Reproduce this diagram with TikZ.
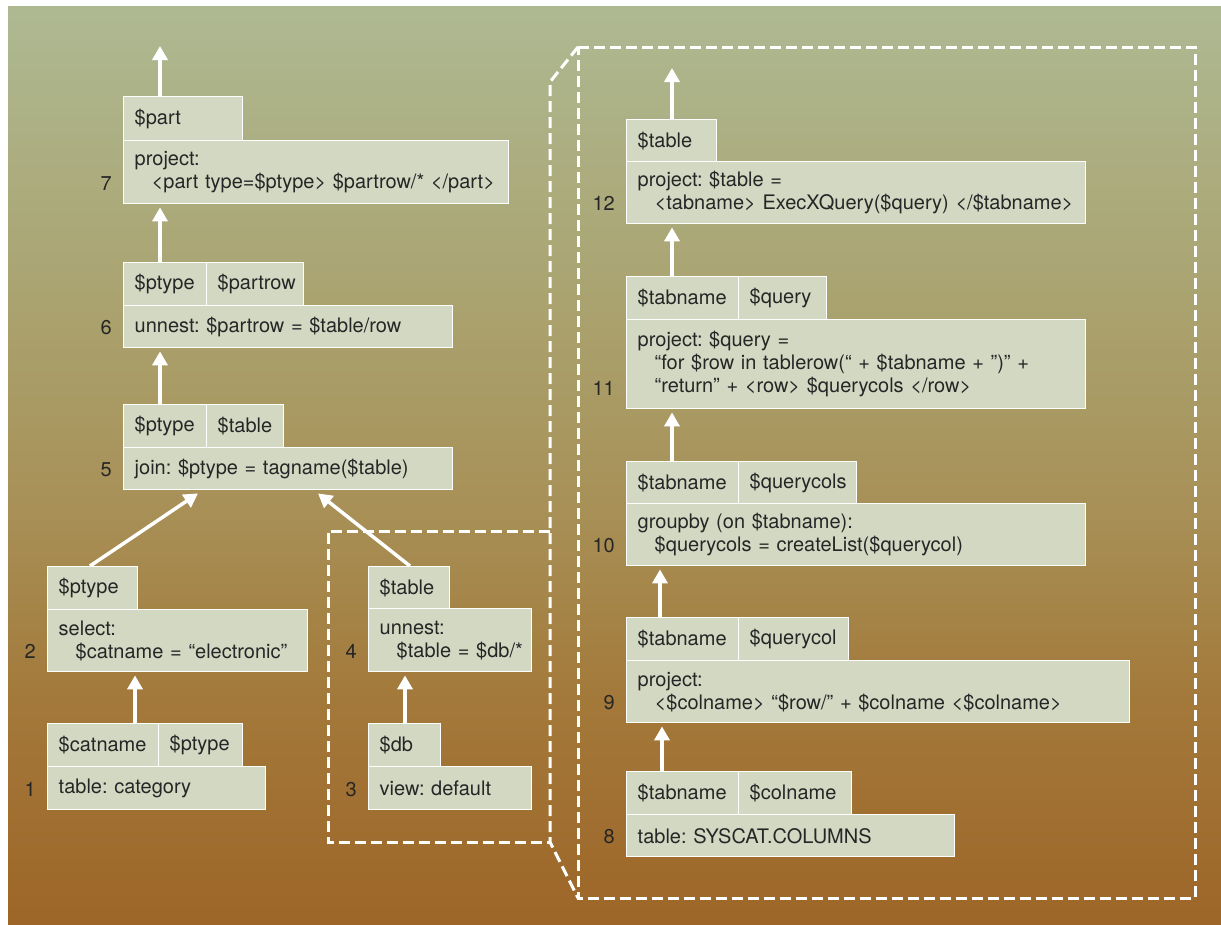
\documentclass[tikz,border=0pt]{standalone}
\usepackage{fontspec}
\setmainfont{TeX Gyre Heros}
\usetikzlibrary{arrows.meta,calc}
\definecolor{boxfill}{RGB}{211,216,195}
\definecolor{txt}{RGB}{38,38,38}
\definecolor{bgA}{RGB}{174,185,146}
\definecolor{bgB}{RGB}{170,163,112}
\definecolor{bgC}{RGB}{168,145,88}
\definecolor{bgD}{RGB}{163,121,58}
\definecolor{bgE}{RGB}{157,102,40}
\pgfdeclareverticalshading{bgshade}{100bp}{color(0bp)=(bgE); color(25bp)=(bgE); color(37.2bp)=(bgD); color(48.1bp)=(bgC); color(59bp)=(bgB); color(75bp)=(bgA); color(100bp)=(bgA)}
\newcommand\fs{\fontsize{20}{23}\selectfont\frenchspacing}
\newcommand\ind[1]{\mbox{\hspace*{17pt}#1}}
\tikzset{
 cellbox/.style={draw=white, line width=1.4pt, fill=boxfill, anchor=north west, inner xsep=11pt, inner ysep=0pt, text=txt, font=\fs, align=left, minimum height=43pt},
 numlbl/.style={anchor=base east, text=txt, font=\fs, inner sep=0pt},
 flow/.style={draw=white, line width=3.5pt, -{Triangle[width=15pt,length=14pt]}},
 dashline/.style={draw=white, line width=3pt, dash pattern=on 11pt off 5pt},
}
\begin{document}
\begin{tikzpicture}[x=1pt,y=-1pt]
\useasboundingbox (0,0) rectangle (1221,924);
\fill[white] (0,0) rectangle (1221,924);
\shade[shading=bgshade] (8,6) rectangle (1221,924);

% dashed groupings
\draw[dashline] (550,531) -- (328,531) -- (328,842) -- (550,842);
\draw[dashline] (578,47) -- (1195,47) -- (1195,898) -- (578,898) -- cycle;
\draw[dashline] (578,47) -- (550,82) -- (550,842) -- (578,898);

% ---------- left column ----------
% 7
\node[cellbox, text width=97pt, minimum height=44pt] (h7a) at (123,96) {\$part};
\node[cellbox, text width=363pt, minimum height=63pt] (b7) at (123,140) {project:\\\ind{<part type=\$ptype> \$partrow/* </part>}};
\node[numlbl] (l7) at ($(b7.south west)+(-11,-14)$) {7};
% 6
\node[cellbox, text width=61pt] (h6a) at (123,262) {\$ptype};
\node[cellbox, text width=75pt] (h6b) at (206,262) {\$partrow};
\node[cellbox, text width=307pt, minimum height=42pt] (b6) at (123,305) {unnest: \$partrow = \$table/row};
\node[numlbl] (l6) at ($(b6.south west)+(-11,-14)$) {6};
% 5
\node[cellbox, text width=61pt] (h5a) at (123,404) {\$ptype};
\node[cellbox, text width=55pt] (h5b) at (206,404) {\$table};
\node[cellbox, text width=307pt, minimum height=42pt] (b5) at (123,447) {join: \$ptype = tagname(\$table)};
\node[numlbl] (l5) at ($(b5.south west)+(-11,-14)$) {5};
% 2
\node[cellbox, text width=68pt] (h2a) at (47,566) {\$ptype};
\node[cellbox, text width=238pt, minimum height=62pt] (b2) at (47,609) {select:\\\ind{\$catname = “electronic”}};
\node[numlbl] (l2) at ($(b2.south west)+(-11,-14)$) {2};
% 1
\node[cellbox, text width=89pt] (h1a) at (47,723) {\$catname};
\node[cellbox, text width=62pt] (h1b) at (158,723) {\$ptype};
\node[cellbox, text width=196pt] (b1) at (47,766) {table: category};
\node[numlbl] (l1) at ($(b1.south west)+(-11,-14)$) {1};
% 4
\node[cellbox, text width=59pt] (h4a) at (368,566) {\$table};
\node[cellbox, text width=141pt, minimum height=63pt] (b4) at (368,608) {unnest:\\\ind{\$table = \$db/*}};
\node[numlbl] (l4) at ($(b4.south west)+(-11,-14)$) {4};
% 3
\node[cellbox, text width=50pt] (h3a) at (368,723) {\$db};
\node[cellbox, text width=141pt] (b3) at (368,766) {view: default};
\node[numlbl] (l3) at ($(b3.south west)+(-11,-14)$) {3};

% ---------- right column ----------
% 12
\node[cellbox, text width=68pt] (h12a) at (626,119) {\$table};
\node[cellbox, text width=437pt, minimum height=62pt] (b12) at (626,161) {project: \$table =\\\ind{<tabname> ExecXQuery(\$query) </\$tabname>}};
\node[numlbl] (l12) at ($(b12.south west)+(-11,-14)$) {12};
% 11
\node[cellbox, text width=90pt] (h11a) at (626,276) {\$tabname};
\node[cellbox, text width=66pt] (h11b) at (738,276) {\$query};
\node[cellbox, text width=437pt, minimum height=89pt] (b11) at (626,319) {project: \$query =\\\ind{“for \$row in tablerow(“ + \$tabname + ”)” +}\\\ind{“return” + <row> \$querycols </row>}};
\node[numlbl] (l11) at ($(b11.south west)+(-11,-14)$) {11};
% 10
\node[cellbox, text width=90pt] (h10a) at (626,461) {\$tabname};
\node[cellbox, text width=96pt] (h10b) at (738,461) {\$querycols};
\node[cellbox, text width=437pt, minimum height=62pt] (b10) at (626,503) {groupby (on \$tabname):\\\ind{\$querycols = createList(\$querycol)}};
\node[numlbl] (l10) at ($(b10.south west)+(-11,-14)$) {10};
% 9
\node[cellbox, text width=90pt] (h9a) at (626,617) {\$tabname};
\node[cellbox, text width=88pt] (h9b) at (738,617) {\$querycol};
\node[cellbox, text width=481pt, minimum height=62pt] (b9) at (626,660) {project:\\\ind{<\$colname> “\$row/” + \$colname <\$colname>}};
\node[numlbl] (l9) at ($(b9.south west)+(-11,-14)$) {9};
% 8
\node[cellbox, text width=90pt] (h8a) at (626,771) {\$tabname};
\node[cellbox, text width=91pt] (h8b) at (738,771) {\$colname};
\node[cellbox, text width=306pt, minimum height=42pt] (b8) at (626,814) {table: SYSCAT.COLUMNS};
\node[numlbl] (l8) at ($(b8.south west)+(-11,-14)$) {8};

% ---------- connectors ----------
\coordinate (t7) at (160,46);
\coordinate (t12) at (672,68);
\draw[flow] ($(h7a.north west)+(37,0)$) -- (t7);
\draw[flow] ($(h6a.north west)+(37,0)$) -- ($(b7.south west)+(37,3)$);
\draw[flow] ($(h5a.north west)+(37,0)$) -- ($(b6.south west)+(37,3)$);
\draw[flow] ($(h2a.north west)+(43,0)$) -- ($(b5.south west)+(75,3)$);
\draw[flow] ($(h4a.north west)+(42,0)$) -- ($(b5.south west)+(195,3)$);
\draw[flow] ($(h1a.north west)+(88,0)$) -- ($(b2.south west)+(88,3)$);
\draw[flow] ($(h3a.north west)+(37,0)$) -- ($(b4.south west)+(37,3)$);
\draw[flow] ($(h12a.north west)+(46,0)$) -- (t12);
\draw[flow] ($(h11a.north west)+(46,0)$) -- ($(b12.south west)+(46,3)$);
\draw[flow] ($(h10a.north west)+(46,0)$) -- ($(b11.south west)+(46,3)$);
\draw[flow] ($(h9a.north west)+(34,0)$) -- ($(b10.south west)+(34,3)$);
\draw[flow] ($(h8a.north west)+(36,0)$) -- ($(b9.south west)+(36,3)$);
\end{tikzpicture}
\end{document}
